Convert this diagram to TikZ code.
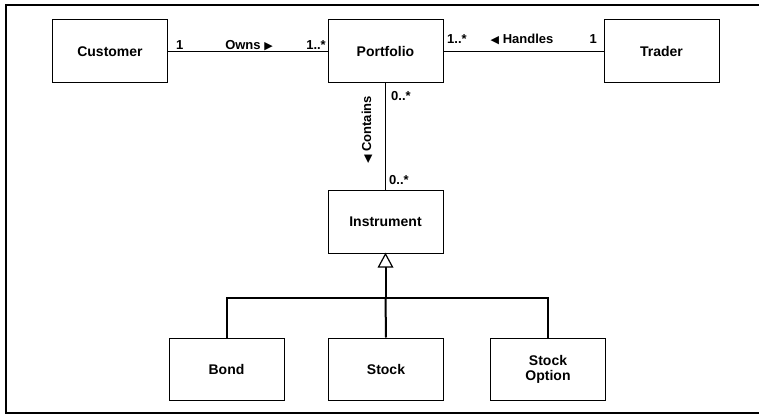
\documentclass[tikz,border=0pt]{standalone}
\usepackage{fontspec}
\setmainfont{Liberation Sans}
\newfontfamily\symfont{DejaVu Sans}
\usetikzlibrary{arrows.meta}
\tikzset{
  classbox/.style={draw, line width=1pt, minimum width=115pt, minimum height=63pt,
    inner sep=0pt, align=center, font=\fontsize{14}{15}\selectfont\bfseries},
  assoc/.style={line width=1.4pt},
  gen/.style={line width=2pt},
  lbl/.style={inner sep=0pt, font=\fontsize{13}{14}\selectfont\bfseries},
  frame/.style={line width=1.8pt}
}
\newcommand{\rtri}{{\symfont\fontsize{11}{11}\selectfont ▶}}
\newcommand{\ltri}{{\symfont\fontsize{11}{11}\selectfont ◀}}
\begin{document}
\begin{tikzpicture}[x=1pt,y=-1pt]
\useasboundingbox (0,0) rectangle (759,419);
% outer frame, open on the right
\draw[frame] (759,5) -- (6,5) -- (6,413) -- (759,413);

% classes
\node[classbox] (cust)  at (110,51.5)  {Customer};
\node[classbox] (port)  at (385.5,51.5) {Portfolio};
\node[classbox] (trad)  at (661.5,51.5) {Trader};
\node[classbox] (inst)  at (385.5,222) {Instrument};
\node[classbox, minimum height=62pt] (bond)  at (226.5,369) {Bond};
\node[classbox, minimum height=62pt] (stock) at (386,369)   {Stock};
\node[classbox, minimum height=62pt] (sopt)  at (548,369)   {Stock\\Option};

% associations
\draw[assoc] (cust) -- (port);
\draw[assoc] (port) -- (trad);
\draw[assoc] (port) -- (inst);

\node[lbl, anchor=base west] (m1) at (176,50) {1};
\node[lbl, anchor=base] (owns) at (249,50) {Owns \rtri};
\node[lbl, anchor=base east] (m2) at (326,50) {1..*};

\node[lbl, anchor=base west] (m3) at (447,44) {1..*};
\node[lbl, anchor=base] (hand) at (522,44) {\ltri{} Handles};
\node[lbl, anchor=base east] (m4) at (597,44) {1};

\node[lbl, anchor=west] (m5) at (391,96) {0..*};
\node[lbl, anchor=west] (m6) at (389,180) {0..*};
\node[lbl, rotate=90] (cont) at (367,130) {\ltri{} Contains};

% generalization
\coordinate (tb) at (385.5,267);
\coordinate (bar) at (385.5,298);
\draw[line width=1.2pt, fill=white] (inst.south) -- ++(-7,13) -- ++(14,0) -- cycle;
\draw[gen] (tb) -- (bar);
\draw[gen] (bond.north) |- (bar) -| (sopt.north);
\draw[gen] (bar) -- (stock.north);
\end{tikzpicture}
\end{document}
